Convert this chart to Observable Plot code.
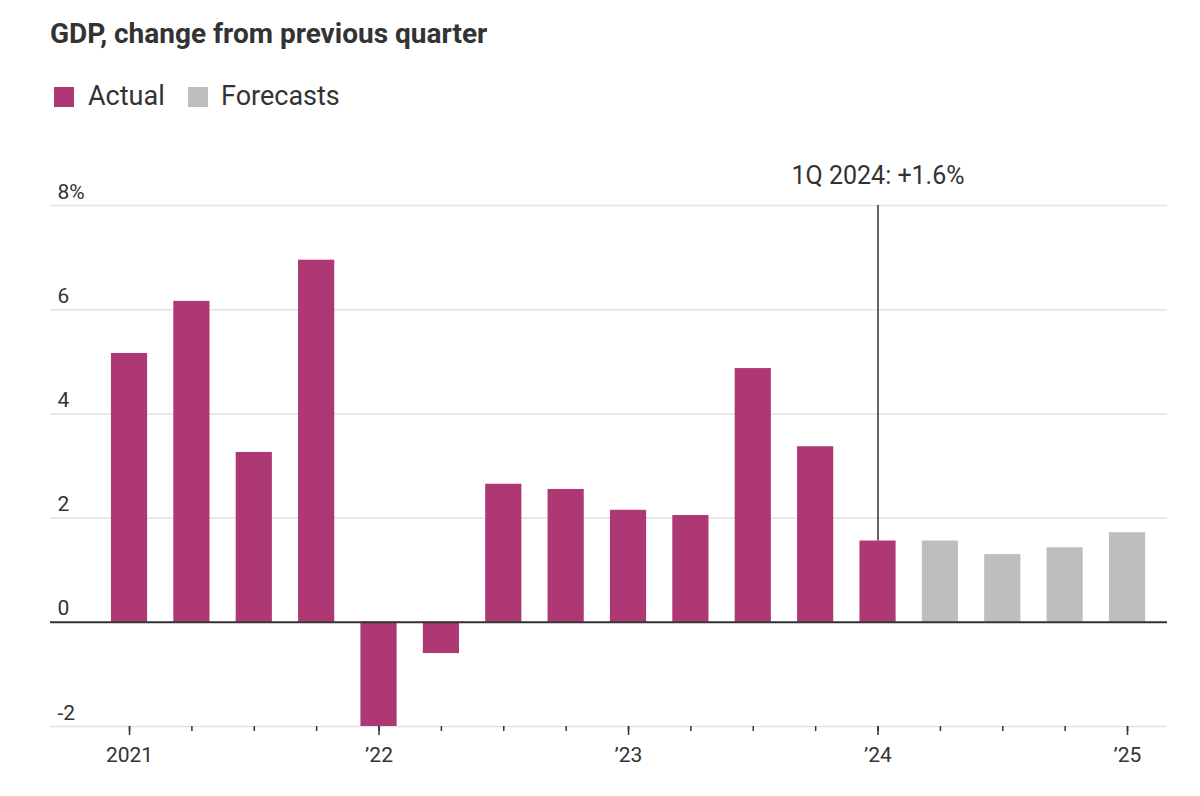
<!DOCTYPE html>
<html><head><meta charset="utf-8">
<script src="https://cdn.jsdelivr.net/npm/d3@7"></script>
<script src="https://cdn.jsdelivr.net/npm/@observablehq/plot@0.6"></script>
<style>
body{margin:0;background:#fff;font-family:Roboto,sans-serif;color:#333;}
#wrap{position:relative;width:1200px;height:796px;overflow:hidden;background:#fff}
#title{position:absolute;left:50px;top:20px;font-size:28px;font-weight:700;line-height:1;color:#333;white-space:nowrap}
.sw{position:absolute;top:87px;width:20px;height:20px}
.lt{position:absolute;top:83px;font-size:27px;line-height:1;color:#333;white-space:nowrap}
#chart{position:absolute;left:0;top:130px}
</style></head>
<body>
<div id="wrap">
  <div id="title"></div>
  <div id="legend"></div>
  <div id="chart"></div>
</div>
<script>
const titleText = "GDP, change from previous quarter";
const quarters = ["1Q 2021","2Q 2021","3Q 2021","4Q 2021","1Q 2022","2Q 2022","3Q 2022","4Q 2022","1Q 2023","2Q 2023","3Q 2023","4Q 2023","1Q 2024","2Q 2024","3Q 2024","4Q 2024","1Q 2025"];
const values = [5.16, 6.16, 3.26, 6.95, -2.0, -0.6, 2.65, 2.55, 2.15, 2.05, 4.87, 3.37, 1.56, 1.56, 1.3, 1.43, 1.72];
const kinds = ["Actual","Actual","Actual","Actual","Actual","Actual","Actual","Actual","Actual","Actual","Actual","Actual","Actual","Forecasts","Forecasts","Forecasts","Forecasts"];
const seriesNames = ["Actual","Forecasts"];
const seriesColors = ["#ad3873","#bebebe"];
const yTicks = [-2, 0, 2, 4, 6, 8];
const xTickQuarters = ["1Q 2021","1Q 2022","1Q 2023","1Q 2024","1Q 2025"];
const xTickLabels = ["2021","\u201922","\u201923","\u201924","\u201925"];
const annotQuarter = "1Q 2024";
const annotLabel = "1Q 2024: +1.6%";

document.getElementById("title").textContent = titleText;
const legend = document.getElementById("legend");
const swX = [54, 188], txX = [88, 221];
seriesNames.forEach((n, k) => {
  const s = document.createElement("div"); s.className = "sw"; s.style.left = swX[k] + "px"; s.style.background = seriesColors[k]; legend.appendChild(s);
  const t = document.createElement("div"); t.className = "lt"; t.style.left = txX[k] + "px"; t.textContent = n; legend.appendChild(t);
});

const data = quarters.map((q, i) => ({i, q, value: values[i], kind: kinds[i]}));
const ai = quarters.indexOf(annotQuarter);
const annot = [{i: ai, value: values[ai], top: d3.max(yTicks), label: annotLabel}];
const majorIdx = xTickQuarters.map(q => quarters.indexOf(q));
const half = 0.29;

const chart = Plot.plot({
  width: 1200, height: 666,
  marginLeft: 50, marginRight: 33, marginTop: 75, marginBottom: 70,
  style: {fontFamily: "Roboto, sans-serif", color: "#333", background: "transparent"},
  x: {type: "linear", domain: [-1.267, quarters.length - 1 + 0.641], axis: null, label: null},
  y: {domain: [d3.min(yTicks), d3.max(yTicks)], axis: null, label: null},
  color: {domain: seriesNames, range: seriesColors},
  marks: [
    Plot.gridY(yTicks, {stroke: "#e2e2e2", strokeOpacity: 1, strokeWidth: 1.5}),
    Plot.axisY(yTicks, {anchor: "left", label: null, tickSize: 0, tickPadding: -7, textAnchor: "start", lineAnchor: "bottom", dy: -7, fontSize: 21, fill: "#333",
      tickFormat: d => d === d3.max(yTicks) ? d + "%" : (d < 0 ? "-" + Math.abs(d) : String(d))}),
    Plot.rectY(data, {x1: d => d.i - half, x2: d => d.i + half, y: "value", fill: "kind"}),
    Plot.ruleY([0], {stroke: "#333", strokeWidth: 2}),
    Plot.axisX(d3.range(quarters.length), {anchor: "bottom", label: null, tickSize: 5, tickFormat: () => "", stroke: "#333", strokeWidth: 1.5}),
    Plot.axisX(majorIdx, {anchor: "bottom", label: null, tickSize: 9, tickPadding: 12, stroke: "#333", strokeWidth: 1.5, fontSize: 21, fill: "#333",
      tickFormat: (d) => xTickLabels[majorIdx.indexOf(d)]}),
    Plot.ruleX(annot, {x: "i", y1: "value", y2: "top", stroke: "#333", strokeWidth: 1.5}),
    Plot.text(annot, {x: "i", y: "top", text: "label", dy: -30, fontSize: 25, fill: "#333"})
  ]
});
document.getElementById("chart").appendChild(chart);
</script>
</body></html>
